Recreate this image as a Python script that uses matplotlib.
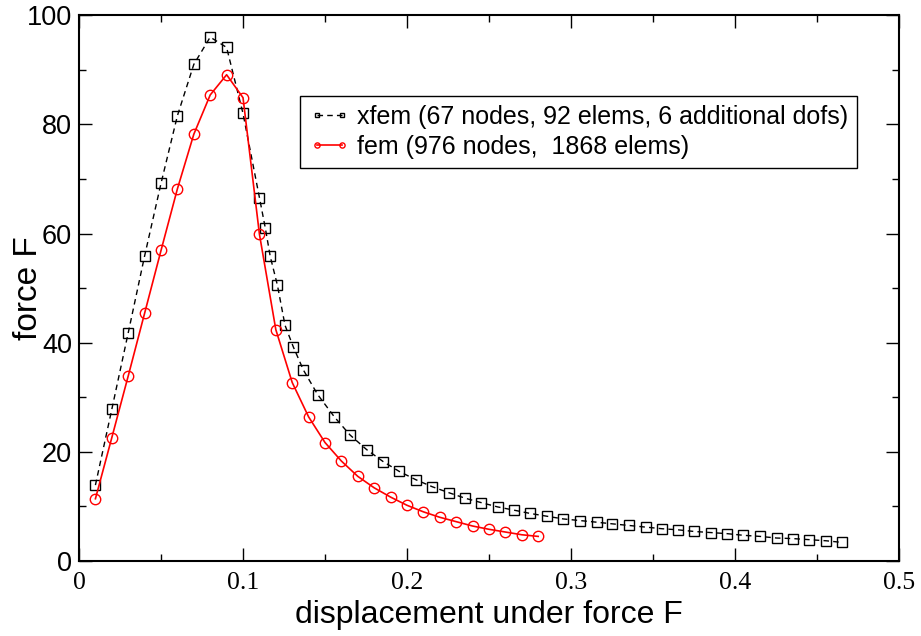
import numpy as np
import matplotlib
matplotlib.use("Agg")
import matplotlib.pyplot as plt

plt.rcParams['font.family'] = ['Liberation Sans', 'DejaVu Sans']

# xfem curve (squares, dashed)
xfem_x = [0.01, 0.02, 0.03, 0.04, 0.05, 0.06, 0.07, 0.08, 0.09, 0.10,
          0.11, 0.1136, 0.1166, 0.121, 0.1256, 0.1307, 0.1368, 0.1455,
          0.1557, 0.1652, 0.1754, 0.1855, 0.1953, 0.2053, 0.2154, 0.2256,
          0.2354, 0.2451, 0.2553, 0.2654, 0.2752, 0.2852, 0.2953, 0.3055,
          0.3157, 0.3252, 0.3354, 0.3456, 0.3557, 0.3654, 0.3752, 0.3854,
          0.3953, 0.4051, 0.4152, 0.4254, 0.4352, 0.4453, 0.4555, 0.4652]
xfem_y = [13.9, 27.8, 41.8, 55.9, 69.2, 81.6, 91.0, 96.0, 94.1, 82.0,
          66.6, 61.0, 55.8, 50.5, 43.2, 39.2, 35.0, 30.5,
          26.4, 23.1, 20.4, 18.2, 16.4, 14.9, 13.6, 12.5,
          11.5, 10.7, 9.9, 9.3, 8.7, 8.2, 7.7, 7.4,
          7.1, 6.8, 6.5, 6.2, 5.9, 5.7, 5.4, 5.2,
          5.0, 4.7, 4.5, 4.2, 4.1, 3.9, 3.7, 3.4]

# fem curve (circles, solid red)
fem_x = [0.01, 0.02, 0.03, 0.04, 0.05, 0.06, 0.07, 0.08, 0.09, 0.10,
         0.11, 0.12, 0.13, 0.14, 0.15, 0.16, 0.17, 0.18, 0.19, 0.20,
         0.21, 0.22, 0.23, 0.24, 0.25, 0.26, 0.27, 0.28]
fem_y = [11.4, 22.6, 33.9, 45.4, 56.9, 68.2, 78.2, 85.4, 89.1, 84.9,
         59.9, 42.4, 32.7, 26.4, 21.7, 18.3, 15.5, 13.4, 11.7, 10.2,
         9.0, 8.0, 7.2, 6.4, 5.8, 5.3, 4.8, 4.5]

xtick_labels = ['0', '0.1', '0.2', '0.3', '0.4', '0.5']

fig = plt.figure(figsize=(9.21, 6.36), dpi=100)
ax = fig.add_axes([0.0858, 0.118, 0.8903, 0.858])

ax.plot(xfem_x, xfem_y, color='black', linestyle=(0, (4, 3)), linewidth=1,
        marker='s', markersize=6.5, markerfacecolor='none',
        markeredgecolor='black', markeredgewidth=1,
        label='xfem (67 nodes, 92 elems, 6 additional dofs)')
ax.plot(fem_x, fem_y, color='red', linestyle='-', linewidth=1.2,
        marker='o', markersize=7.5, markerfacecolor='none',
        markeredgecolor='red', markeredgewidth=1,
        label='fem (976 nodes,  1868 elems)')

ax.set_xlim(0, 0.5)
ax.set_ylim(0, 100)
ax.tick_params(which='both', direction='in', top=True, right=True, width=1)
ax.tick_params(which='major', length=9.5)
ax.tick_params(which='minor', length=5)
ax.tick_params(axis='x', which='major', pad=8)
ax.tick_params(axis='y', which='major', pad=5)
ax.set_xticks(np.arange(0, 0.51, 0.1))
ax.set_xticks(np.arange(0.05, 0.5, 0.1), minor=True)
ax.set_yticks(np.arange(0, 101, 20))
ax.set_yticks(np.arange(10, 100, 20), minor=True)
ax.set_xticklabels(xtick_labels)
# x tick labels are drawn in a serif face in the original
for lbl in ax.get_xticklabels():
    lbl.set_fontfamily(['Liberation Serif', 'DejaVu Serif'])
    lbl.set_fontsize(18.5)
for lbl in ax.get_yticklabels():
    lbl.set_fontsize(19.5)
for sp in ax.spines.values():
    sp.set_linewidth(1.5)

ax.set_xlabel('displacement under force F', fontsize=23, labelpad=4)
ax.set_ylabel('force F', fontsize=24)
ax.yaxis.set_label_coords(-0.043, 0.5)

leg = ax.legend(loc='upper left', bbox_to_anchor=(0.27, 0.852),
                fontsize=18, numpoints=2, markerscale=0.5,
                handlelength=1.6, handletextpad=0.3, borderpad=0.35,
                labelspacing=0.25, fancybox=False, framealpha=1,
                borderaxespad=0)
leg.get_frame().set_edgecolor('black')
leg.get_frame().set_linewidth(1)

fig.savefig('out.png', dpi=100)
